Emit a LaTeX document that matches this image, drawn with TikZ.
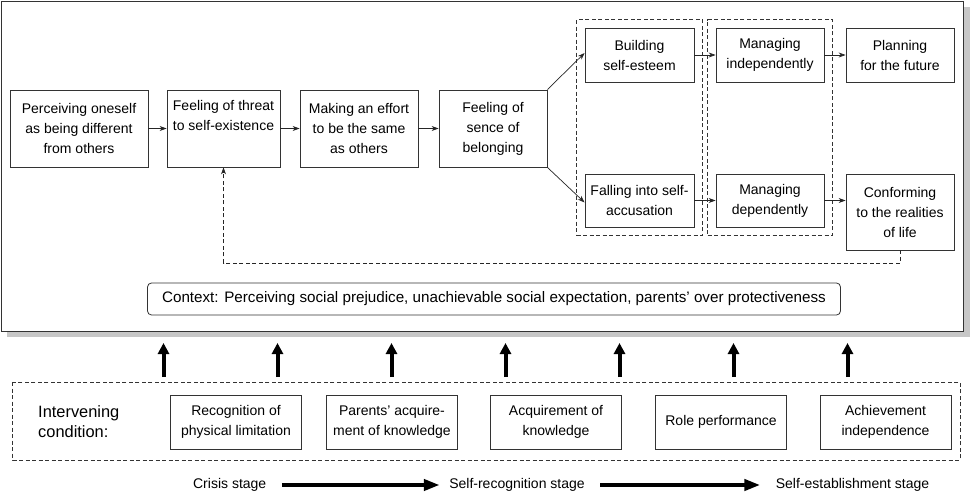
\documentclass[tikz,border=0pt]{standalone}
\usepackage{fontspec}
\setmainfont{Liberation Sans}
\usetikzlibrary{arrows.meta, fit}

\begin{document}
\begin{tikzpicture}[x=1pt, y=-1pt, font=\fontsize{14}{20}\selectfont,
    box/.style={draw=black!80, line width=0.8pt, align=center, inner sep=0pt},
    link/.style={-{Stealth[length=7pt,width=5pt]}, line width=0.7pt, black!85},
    group/.style={draw=black!80, dash pattern=on 4pt off 2.5pt, line width=0.7pt, inner sep=8pt},
    bigup/.style={-{Triangle[length=11pt,width=11pt]}, line width=4pt},
    stagearrow/.style={-{Triangle[length=16pt,width=11pt]}, line width=4pt}]
                \useasboundingbox (0,0) rectangle (972,494);

                % Frame with shadow:
                \fill[black!22] (7,7) rectangle (970,337.5);
                \draw[draw=black!80, fill=white, line width=0.9pt] (1.3,1) rectangle (963.3,331.7);

                % Main sequence:
                \node[box, minimum width=138, minimum height=77] (diff) at (79,128.5)
                    {Perceiving oneself\\as being different\\from others};
                \node[box, minimum width=113, minimum height=77] (threat) at (223.5,128.5)
                    {Feeling of threat\\to self-existence\\\strut};
                \node[box, minimum width=118, minimum height=77] (effort) at (359,128.5)
                    {Making an effort\\to be the same\\as others};
                \node[box, minimum width=108, minimum height=77] (belong) at (493,128.5)
                    {Feeling of\\sence of\\belonging};

                % Branches:
                \node[box, minimum width=109, minimum height=54] (esteem) at (639.5,55)
                    {Building\\self-esteem};
                \node[box, minimum width=109, minimum height=53] (accuse) at (639.5,200.5)
                    {Falling into self-\\accusation};
                \node[box, minimum width=108, minimum height=54] (indep) at (770,55)
                    {Managing\\independently};
                \node[box, minimum width=108, minimum height=53] (mdep) at (770,200.5)
                    {Managing\\dependently};
                \node[box, minimum width=108, minimum height=54] (future) at (900,55)
                    {Planning\\for the future};
                \node[box, minimum width=108, minimum height=76] (conform) at (900,212)
                    {Conforming\\to the realities\\of life};

                % Dashed groups:
                \node[group, fit=(esteem)(accuse)] (grpA) {};
                \node[group, fit=(indep)(mdep)] (grpB) {};

                % Links:
                \draw[link] (diff) -- (threat);
                \draw[link] (threat) -- (effort);
                \draw[link] (effort) -- (belong);
                \draw[link] (belong.north east) -- ([yshift=2pt]esteem.west);
                \draw[link] (belong.south east) -- ([yshift=-2pt]accuse.west);
                \draw[link] (esteem) -- (indep);
                \draw[link] (indep) -- (future);
                \draw[link] (accuse) -- (mdep);
                \draw[link] (mdep.east) -- (conform.west |- mdep.east);

                % Feedback:
                \draw[link, dash pattern=on 4pt off 2.5pt] (conform.south) -- ++(0,12.5) -| (threat.south);

                % Context:
                \node[box, rounded corners=4pt, minimum width=693, minimum height=32,
                      font=\fontsize{15.2}{20}\selectfont] (context) at (494,299)
                    {Context: Perceiving social prejudice, unachievable social expectation, parents' over protectiveness};

                % Intervening conditions:
                \draw[black!80, dash pattern=on 4pt off 2.5pt, line width=0.7pt] (12.7,382) rectangle (960,460);
                \node[align=left, anchor=west, inner sep=0pt, font=\fontsize{16.4}{19.5}\selectfont] (cond) at (38,421.5)
                    {Intervening\\condition:};
                \node[box, minimum width=131, minimum height=54] (limit) at (236,422)
                    {Recognition of\\physical limitation};
                \node[box, minimum width=131, minimum height=54] (parents) at (392,422)
                    {Parents' acquire-\\ment of knowledge};
                \node[box, minimum width=131, minimum height=54] (know) at (556,422)
                    {Acquirement of\\knowledge};
                \node[box, minimum width=131, minimum height=54] (role) at (721,422)
                    {Role performance};
                \node[box, minimum width=131, minimum height=54] (achieve) at (885.5,422)
                    {Achievement\\independence};

                % Upward arrows:
                \foreach \i in {0,...,6} {
                    \coordinate (up\i) at ({163.5+114*\i},377);
                    \draw[bigup] (up\i) -- ++(0,-34);
                }

                % Stages:
                \node (crisis) at (229.7,485) {Crisis stage};
                \node (recog) at (517,485) {Self-recognition stage};
                \node (estab) at (852.5,485) {Self-establishment stage};
                \draw[stagearrow] ([xshift=12pt]crisis.east) -- ([xshift=-6pt]recog.west);
                \draw[stagearrow] ([xshift=12pt]recog.east) -- ([xshift=-12pt]estab.west);
            \end{tikzpicture}
\end{document}
